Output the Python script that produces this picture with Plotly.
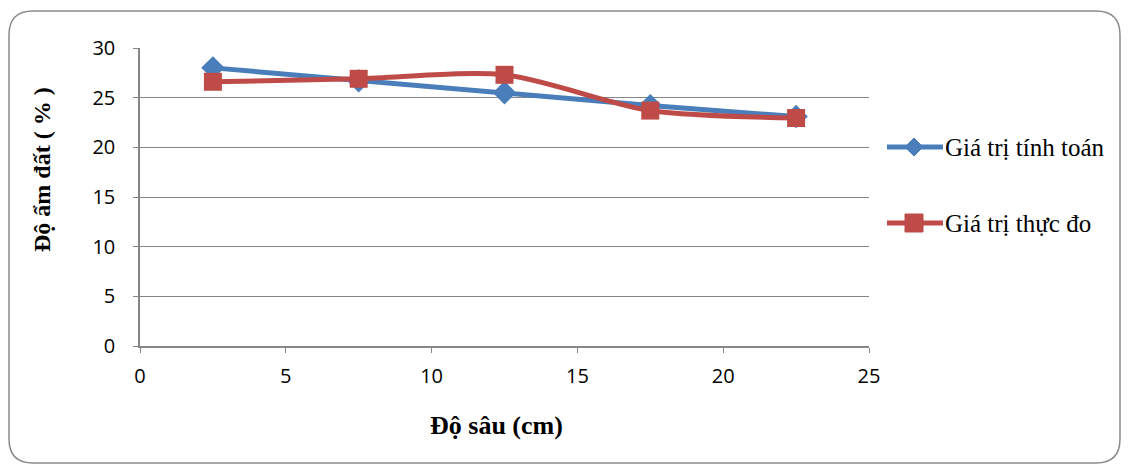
import plotly.graph_objects as go

depth = [2.5, 7.5, 12.5, 17.5, 22.5]
calc = [28.0, 26.7, 25.5, 24.2, 23.1]
meas = [26.6, 26.9, 27.3, 23.7, 22.95]
names = ["Giá trị tính toán", "Giá trị thực đo"]
colors = ["#4A7EBB", "#BE4B48"]
x_title = "<b>Độ sâu (cm)</b>"
y_title = "<b>Độ ẩm đất ( % )</b>"

W, H = 1128, 468
L, R, T, B = 140, 259, 48, 122
pw, ph = W - L - R, H - T - B

fig = go.Figure()
fig.add_trace(go.Scatter(x=depth, y=calc, name=names[0], mode="lines+markers",
                         line=dict(color=colors[0], width=5),
                         marker=dict(symbol="diamond", size=18, color=colors[0])))
fig.add_trace(go.Scatter(x=depth, y=meas, name=names[1], mode="lines+markers",
                         line=dict(color=colors[1], width=5, shape="spline", smoothing=0.8),
                         marker=dict(symbol="square", size=18, color=colors[1])))

def px2paper(x, y):
    return (x - L) / pw, (H - B - y) / ph

def P(x, y):
    a, b = px2paper(x, y)
    return f"{a:.5f},{b:.5f}"

# rounded border
x0, y0, x1, y1, r = 9, 11, 1120, 463, 24
path = (f"M{P(x0+r,y0)} L{P(x1-r,y0)} Q{P(x1,y0)} {P(x1,y0+r)} L{P(x1,y1-r)} "
        f"Q{P(x1,y1)} {P(x1-r,y1)} L{P(x0+r,y1)} Q{P(x0,y1)} {P(x0,y1-r)} "
        f"L{P(x0,y0+r)} Q{P(x0,y0)} {P(x0+r,y0)} Z")
fig.add_shape(type="path", path=path, xref="paper", yref="paper",
              line=dict(color="#8A8A8A", width=1.5), layer="below")

# manual legend
leg_y = [147, 223]
for i in range(2):
    lx0, lx1, cy = 887, 943, leg_y[i]
    a0, b = px2paper(lx0, cy)
    a1, _ = px2paper(lx1, cy)
    fig.add_shape(type="line", xref="paper", yref="paper", x0=a0, x1=a1, y0=b, y1=b,
                  line=dict(color=colors[i], width=5))
    cx = 914
    if i == 0:
        s = 9
        dpath = f"M{P(cx, cy - s)} L{P(cx + s, cy)} L{P(cx, cy + s)} L{P(cx - s, cy)} Z"
        fig.add_shape(type="path", path=dpath, xref="paper", yref="paper",
                      fillcolor=colors[i], line=dict(color=colors[i], width=1))
    else:
        s = 9
        ax0, ay0 = px2paper(cx - s, cy + s)
        ax1, ay1 = px2paper(cx + s, cy - s)
        fig.add_shape(type="rect", xref="paper", yref="paper", x0=ax0, x1=ax1, y0=ay0, y1=ay1,
                      fillcolor=colors[i], line=dict(color=colors[i], width=1))
    tx, ty = px2paper(943, cy)
    fig.add_annotation(x=tx, y=ty, xref="paper", yref="paper", text=names[i],
                       showarrow=False, xanchor="left", yanchor="middle",
                       font=dict(family="Liberation Serif", size=25, color="#000000"))

titlefont = dict(family="Liberation Serif", size=24, color="#000000")
yx, yy = px2paper(42, 170)
fig.add_annotation(x=yx, y=yy, xref="paper", yref="paper", text=y_title,
                   textangle=-90, showarrow=False, xanchor="center", yanchor="middle",
                   font=titlefont)
xx, xy = px2paper(496, 425)
fig.add_annotation(x=xx, y=xy, xref="paper", yref="paper", text=x_title,
                   showarrow=False, xanchor="center", yanchor="middle",
                   font=dict(family="Liberation Serif", size=26, color="#000000"))

tickfont = dict(family="Open Sans, Liberation Sans", size=20, color="#000000")

fig.update_layout(
    width=W, height=H, autosize=False,
    margin=dict(l=L, r=R, t=T, b=B),
    paper_bgcolor="white", plot_bgcolor="white",
    showlegend=False,
    xaxis=dict(range=[0, 25], tickvals=[0, 5, 10, 15, 20, 25], showgrid=False,
               showline=True, linecolor="#868686", linewidth=1.5,
               ticks="outside", ticklen=5, tickcolor="#868686",
               tickfont=tickfont, zeroline=False, ticklabelstandoff=6),
    yaxis=dict(range=[0, 30], tickvals=[0, 5, 10, 15, 20, 25, 30], showgrid=True,
               gridcolor="#868686", gridwidth=1.2,
               showline=True, linecolor="#868686", linewidth=1.5,
               ticks="outside", ticklen=5, tickcolor="#868686",
               tickfont=tickfont, zeroline=False, ticklabelstandoff=14),
)

fig.write_html("out.html", config={"displayModeBar": False},
               post_script="document.body.style.margin='0';document.body.style.overflow='hidden';")
